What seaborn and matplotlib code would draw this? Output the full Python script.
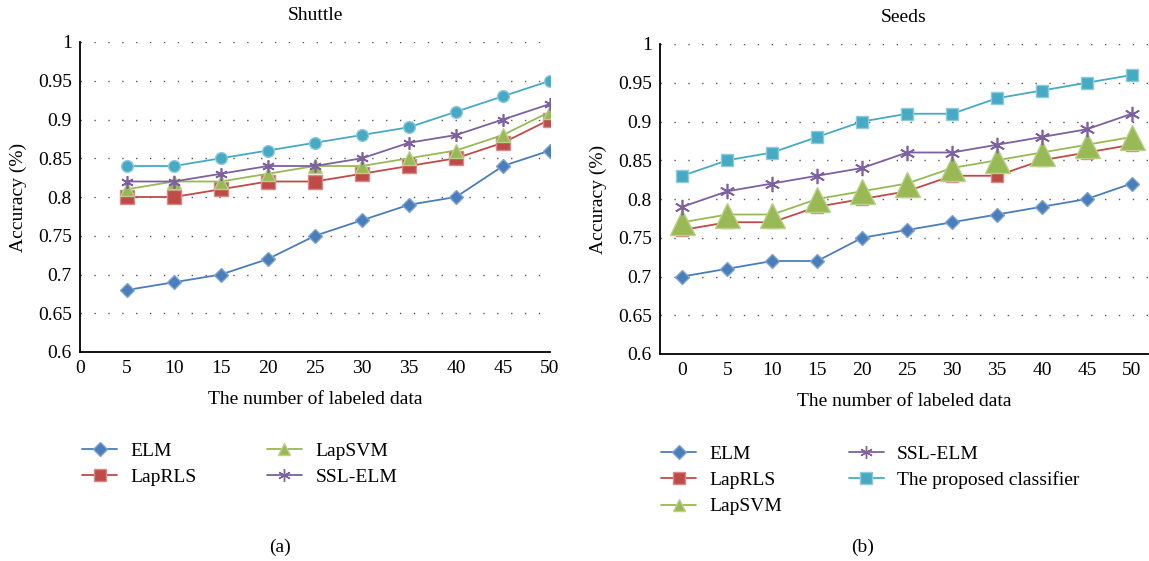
"""Accuracy vs number of labeled data for Shuttle and Seeds."""

import matplotlib

matplotlib.use("Agg")
import matplotlib.pyplot as plt
from matplotlib.lines import Line2D
import pandas as pd
import seaborn as sns


sns.set_theme(style="white")
plt.rcParams["font.family"] = ["Liberation Serif", "DejaVu Serif"]
plt.rcParams.update({"text.color": "black", "axes.labelcolor": "black",
                     "xtick.color": "black", "ytick.color": "black"})

# ---- data -------------------------------------------------------------
shuttle_x = [5, 10, 15, 20, 25, 30, 35, 40, 45, 50]
shuttle_elm = [0.68, 0.69, 0.70, 0.72, 0.75, 0.77, 0.79, 0.80, 0.84, 0.86]
shuttle_laprls = [0.80, 0.80, 0.81, 0.82, 0.82, 0.83, 0.84, 0.85, 0.87, 0.90]
shuttle_lapsvm = [0.81, 0.82, 0.82, 0.83, 0.84, 0.84, 0.85, 0.86, 0.88, 0.91]
shuttle_sslelm = [0.82, 0.82, 0.83, 0.84, 0.84, 0.85, 0.87, 0.88, 0.90, 0.92]
shuttle_proposed = [0.84, 0.84, 0.85, 0.86, 0.87, 0.88, 0.89, 0.91, 0.93, 0.95]

seeds_x = [0, 5, 10, 15, 20, 25, 30, 35, 40, 45, 50]
seeds_elm = [0.70, 0.71, 0.72, 0.72, 0.75, 0.76, 0.77, 0.78, 0.79, 0.80, 0.82]
seeds_laprls = [0.76, 0.77, 0.77, 0.79, 0.80, 0.81, 0.83, 0.83, 0.85, 0.86, 0.87]
seeds_lapsvm = [0.77, 0.78, 0.78, 0.80, 0.81, 0.82, 0.84, 0.85, 0.86, 0.87, 0.88]
seeds_sslelm = [0.79, 0.81, 0.82, 0.83, 0.84, 0.86, 0.86, 0.87, 0.88, 0.89, 0.91]
seeds_proposed = [0.83, 0.85, 0.86, 0.88, 0.90, 0.91, 0.91, 0.93, 0.94, 0.95, 0.96]

y_ticks = [0.6, 0.65, 0.7, 0.75, 0.8, 0.85, 0.9, 0.95, 1.0]
x_ticks = [0, 5, 10, 15, 20, 25, 30, 35, 40, 45, 50]

COLORS = {
    "ELM": "#4a7ebb",
    "LapRLS": "#be4b48",
    "LapSVM": "#98b954",
    "SSL-ELM": "#7d60a0",
    "The proposed classifier": "#46aac5",
}
EDGES = {
    "ELM": "#7fa3d1",
    "LapRLS": "#d98a88",
    "LapSVM": "#b9d18b",
    "SSL-ELM": "#7d60a0",
    "The proposed classifier": "#8fcadb",
}
STAR = (6, 2, 0)


def _panel(ax, x, series, styles, title, xlim):
    for name, values in series:
        marker, size = styles[name]
        frame = pd.DataFrame({"x": x, "acc": values})
        sns.lineplot(
            data=frame, x="x", y="acc", ax=ax, color=COLORS[name],
            marker=marker, markersize=size, markeredgecolor=EDGES[name],
            markeredgewidth=1 if marker != STAR else 1.2, linewidth=1.3,
        )
    ax.set_xlim(*xlim)
    ax.set_ylim(0.6, 1.0)
    ax.set_xticks(x_ticks)
    ax.set_yticks(y_ticks)
    ax.set_yticklabels([f"{t:g}" for t in y_ticks])
    ax.tick_params(length=0, labelsize=14, pad=6)
    ax.yaxis.grid(True, color="#555555", linestyle=(0, (1, 9)), linewidth=1.0)
    for side in ["top", "right"]:
        ax.spines[side].set_visible(False)
    for side in ["left", "bottom"]:
        ax.spines[side].set_color("black")
        ax.spines[side].set_linewidth(1.3)
    ax.set_title(title, fontsize=14, pad=16)
    ax.set_xlabel("The number of labeled data", fontsize=14, labelpad=10)
    ax.set_ylabel("Accuracy (%)", fontsize=14, labelpad=8)


def _handles(names, styles):
    out = []
    for name in names:
        marker, size = styles[name]
        out.append(Line2D([], [], color=COLORS[name], marker=marker,
                          markersize=min(size, 9), markeredgecolor=EDGES[name],
                          linewidth=1.3, label=name))
    return out


fig = plt.figure(figsize=(11.49, 5.61), dpi=100)
ax_a = fig.add_axes([80 / 1149, 1 - 352 / 561, 470 / 1149, 310 / 561])
ax_b = fig.add_axes([660 / 1149, 1 - 354 / 561, 488 / 1149, 310 / 561])

styles_a = {
    "ELM": ("D", 7),
    "LapRLS": ("s", 10),
    "LapSVM": ("^", 10),
    "SSL-ELM": (STAR, 9),
    "The proposed classifier": ("o", 8.5),
}
styles_b = {
    "ELM": ("D", 7),
    "LapRLS": ("s", 9),
    "LapSVM": ("^", 18),
    "SSL-ELM": (STAR, 11),
    "The proposed classifier": ("s", 8.5),
}

_panel(
    ax_a, shuttle_x,
    [("ELM", shuttle_elm), ("LapRLS", shuttle_laprls), ("LapSVM", shuttle_lapsvm),
     ("SSL-ELM", shuttle_sslelm), ("The proposed classifier", shuttle_proposed)],
    styles_a, "Shuttle", (0, 50),
)
_panel(
    ax_b, seeds_x,
    [("ELM", seeds_elm), ("LapRLS", seeds_laprls), ("LapSVM", seeds_lapsvm),
     ("SSL-ELM", seeds_sslelm), ("The proposed classifier", seeds_proposed)],
    styles_b, "Seeds", (-2.5, 51.8),
)

legend_kw = dict(ncol=2, frameon=False, fontsize=14, borderpad=0, borderaxespad=0,
                 handlelength=1.8, handletextpad=0.7, labelspacing=0.45,
                 numpoints=1, loc="upper left")
fig.legend(handles=_handles(["ELM", "LapRLS", "LapSVM", "SSL-ELM"], styles_a),
           bbox_to_anchor=(82 / 1149, 1 - 442 / 561), columnspacing=3.6, **legend_kw)
fig.legend(handles=_handles(["ELM", "LapRLS", "LapSVM", "SSL-ELM",
                             "The proposed classifier"], styles_b),
           bbox_to_anchor=(661 / 1149, 1 - 445 / 561), columnspacing=3.4, **legend_kw)

fig.text(280 / 1149, 1 - 547 / 561, "(a)", ha="center", va="center", fontsize=14)
fig.text(863 / 1149, 1 - 547 / 561, "(b)", ha="center", va="center", fontsize=14)

fig.savefig("out.png", dpi=100)
